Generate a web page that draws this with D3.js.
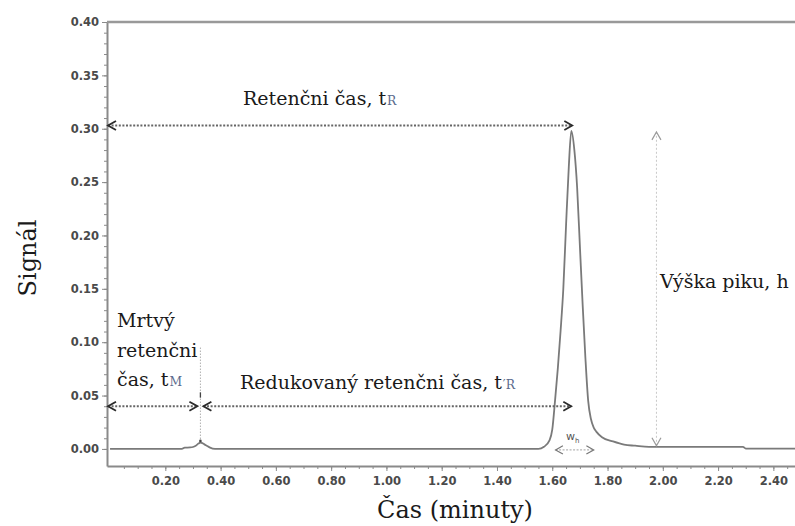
<!DOCTYPE html>
<html>
<head>
<meta charset="utf-8">
<script src="https://cdn.jsdelivr.net/npm/d3@7"></script>
<style>
  body { margin: 0; background: #fff; }
  svg { display: block; }
  .axis text { font-family: "DejaVu Sans", sans-serif; font-weight: bold; font-size: 11.5px; fill: #4a4a4a; }
  .axis line, .axis path { stroke: #8a8a8a; }
  .label { font-family: "DejaVu Serif", serif; fill: #1a1a1a; }
</style>
</head>
<body>
<svg class="chart" width="795" height="526"></svg>
<script>
// chromatogram (time in min, signal)
var times  = [0.00, 0.26, 0.27, 0.29, 0.30, 0.31, 0.32, 0.327, 0.34, 0.35, 0.36, 0.38, 0.40,
              1.50, 1.55, 1.57, 1.59, 1.60, 1.61, 1.62, 1.63, 1.64, 1.65, 1.66, 1.669,
              1.68, 1.69, 1.70, 1.71, 1.72, 1.73, 1.74, 1.75, 1.76, 1.78, 1.82, 1.86,
              1.90, 1.95, 2.29, 2.30, 2.50];
var signal = [0.000, 0.000, 0.0012, 0.0014, 0.0018, 0.003, 0.005, 0.006, 0.0045, 0.003, 0.0015, 0.000, 0.000,
              0.000, 0.000, 0.002, 0.008, 0.018, 0.045, 0.075, 0.110, 0.150, 0.210, 0.265, 0.298,
              0.280, 0.245, 0.190, 0.135, 0.085, 0.045, 0.028, 0.020, 0.016, 0.011, 0.007, 0.004,
              0.003, 0.002, 0.002, 0.0003, 0.0003];

var xTickValues = [0.20, 0.40, 0.60, 0.80, 1.00, 1.20, 1.40, 1.60, 1.80, 2.00, 2.20, 2.40];
var yTickValues = [0.00, 0.05, 0.10, 0.15, 0.20, 0.25, 0.30, 0.35, 0.40];

// annotation positions (data units)
var deadTime = 0.327;
var retentionTime = 1.669;
var peakHeight = 0.298;
var heightArrowTime = 1.977;
var widthStart = 1.612, widthEnd = 1.750;
var tRLevel = 0.303;
var tMLevel = 0.040;

(function() {
  var svg = d3.select('.chart');

  var x = d3.scaleLinear().domain([-0.011, 2.5]).range([107, 801]);
  var y = d3.scaleLinear().domain([-0.016, 0.4]).range([466, 22]);

  var defs = svg.append('defs');
  marker('chev', '#2b2b2b', 1.8, 9);
  marker('chevLight', '#9a9a9a', 1.2, 9);
  marker('chevMid', '#777', 1.3, 8);

  function marker(id, color, width, size) {
    defs.append('marker')
      .attr('id', id)
      .attr('markerUnits', 'userSpaceOnUse')
      .attr('viewBox', '-10 -6 12 12')
      .attr('refX', 0)
      .attr('refY', 0)
      .attr('markerWidth', size + 3)
      .attr('markerHeight', size + 3)
      .attr('orient', 'auto-start-reverse')
      .append('path')
        .attr('d', 'M-8,-4.5 L0,0 L-8,4.5')
        .attr('fill', 'none')
        .attr('stroke', color)
        .attr('stroke-width', width);
  }

  // axes
  var yMinor = d3.range(0, 0.401, 0.01);
  var xMinor = d3.range(0.05, 2.51, 0.05);

  svg.append('g')
    .attr('class', 'axis')
    .attr('transform', 'translate(107,0)')
    .call(d3.axisLeft(y).tickValues(yMinor).tickSize(3).tickFormat(''))
    .call(function(g) { g.select('.domain').remove(); });

  svg.append('g')
    .attr('class', 'axis')
    .attr('transform', 'translate(0,466)')
    .call(d3.axisBottom(x).tickValues(xMinor).tickSize(3).tickFormat(''))
    .call(function(g) { g.select('.domain').remove(); });

  svg.append('g')
    .attr('class', 'axis')
    .attr('transform', 'translate(107,0)')
    .call(d3.axisLeft(y).tickValues(yTickValues).tickSize(5).tickSizeOuter(0).tickPadding(3).tickFormat(d3.format('.2f')))
    .call(function(g) { g.select('.domain').attr('stroke-width', 2); });

  svg.append('g')
    .attr('class', 'axis')
    .attr('transform', 'translate(0,466)')
    .call(d3.axisBottom(x).tickValues(xTickValues).tickSize(5).tickSizeOuter(0).tickPadding(6).tickFormat(d3.format('.2f')))
    .call(function(g) { g.select('.domain').attr('stroke-width', 2); });

  // top frame
  svg.append('line')
    .attr('x1', 107).attr('x2', 795)
    .attr('y1', y(0.4)).attr('y2', y(0.4))
    .attr('stroke', '#999')
    .attr('stroke-width', 2.5);

  // chromatogram
  var data = times.map(function(t, i) { return [t, signal[i]]; });
  svg.append('path')
    .datum(data)
    .attr('fill', 'none')
    .attr('stroke', '#7a7a7a')
    .attr('stroke-width', 1.8)
    .attr('d', d3.line()
      .x(function(d) { return x(d[0]); })
      .y(function(d) { return y(d[1]); })
      .curve(d3.curveMonotoneX));

  // arrows
  arrow(x(-0.011) + 1, y(tRLevel), x(retentionTime) + 1, y(tRLevel), '#666', 2, '2,1.6', 'chev');
  arrow(x(-0.011) + 1, y(tMLevel), x(deadTime) - 3, y(tMLevel), '#666', 2, '2,1.6', 'chev');
  arrow(x(deadTime) + 3, y(tMLevel), x(retentionTime), y(tMLevel), '#666', 2, '2,1.6', 'chev');
  arrow(x(heightArrowTime), y(0.002) - 1, x(heightArrowTime), y(peakHeight) + 1, '#c8c8c8', 1, '2,2', 'chevLight');
  arrow(x(widthStart), y(0) + 1, x(widthEnd), y(0) + 1, '#b5b5b5', 1.2, '2,1.5', 'chevMid');

  // dead time marker line
  svg.append('line')
    .attr('x1', x(deadTime)).attr('x2', x(deadTime))
    .attr('y1', y(0.095)).attr('y2', y(0.007))
    .attr('stroke', '#b0b0b0')
    .attr('stroke-width', 1)
    .attr('stroke-dasharray', '1.5,1.5');
  svg.append('line')
    .attr('x1', x(deadTime)).attr('x2', x(deadTime))
    .attr('y1', y(0.053)).attr('y2', y(0.048))
    .attr('stroke', '#444')
    .attr('stroke-width', 1.3);
  svg.append('circle')
    .attr('cx', x(deadTime)).attr('cy', y(0.0075))
    .attr('r', 1.3)
    .attr('fill', '#444');

  function arrow(x1, y1, x2, y2, color, width, dash, head) {
    svg.append('line')
      .attr('x1', x1).attr('y1', y1)
      .attr('x2', x2).attr('y2', y2)
      .attr('stroke', color)
      .attr('stroke-width', width)
      .attr('stroke-dasharray', dash)
      .attr('marker-start', 'url(#' + head + ')')
      .attr('marker-end', 'url(#' + head + ')');
  }

  // texts
  label(243, 105, 19, 'Retenčni čas, t', 'R');
  label(660, 288, 19, 'Výška piku, h');
  label(117, 327, 19, 'Mrtvý');
  label(117, 357, 19, 'retenčni');
  label(117, 386, 19, 'čas, t', 'M');
  label(240, 389, 19, 'Redukovaný retenčni čas, t', '′R');

  var wh = svg.append('text')
    .attr('x', 566).attr('y', 440)
    .attr('font-family', 'DejaVu Sans, sans-serif')
    .attr('font-size', 11)
    .attr('fill', '#555')
    .text('w');
  wh.append('tspan').attr('font-size', 7).attr('dy', 3).text('h');

  svg.append('text')
    .attr('class', 'label')
    .attr('transform', 'translate(36,258) rotate(-90)')
    .attr('text-anchor', 'middle')
    .attr('font-size', 24)
    .text('Signál');

  svg.append('text')
    .attr('class', 'label')
    .attr('x', 455).attr('y', 518)
    .attr('text-anchor', 'middle')
    .attr('font-size', 24)
    .text('Čas (minuty)');

  function label(px, py, size, main, sub) {
    var t = svg.append('text')
      .attr('class', 'label')
      .attr('x', px).attr('y', py)
      .attr('font-size', size)
      .text(main);
    if (sub) {
      t.append('tspan')
        .attr('font-size', size * 0.65)
        .attr('fill', '#5a6a8c')
        .attr('dx', 1)
        .text(sub);
    }
  }
})();
</script>
</body>
</html>
